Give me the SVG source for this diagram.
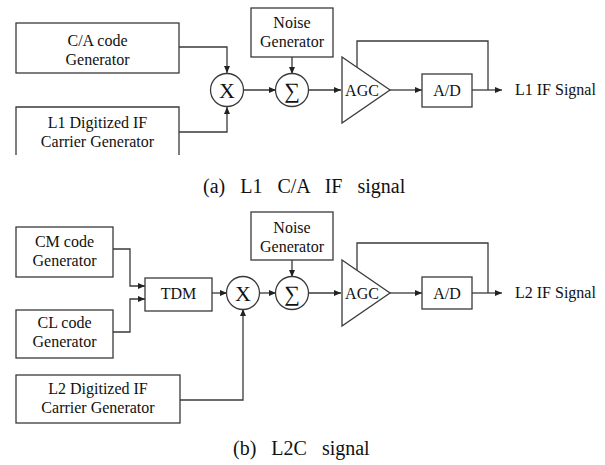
<svg xmlns="http://www.w3.org/2000/svg" width="605" height="465" viewBox="0 0 605 465">
  <style>
    .box { fill: #ffffff; stroke: #3a3a3a; stroke-width: 1.3; }
    .wire { fill: none; stroke: #3a3a3a; stroke-width: 1.3; }
    .arr { marker-end: url(#ah); }
    .lbl { font-family: 'Liberation Serif', 'DejaVu Serif', serif; font-size: 16px; fill: #111111; text-anchor: middle; }
    .out { font-family: 'Liberation Serif', 'DejaVu Serif', serif; font-size: 16px; fill: #111111; }
    .sym { font-family: 'Liberation Serif', 'DejaVu Serif', serif; font-size: 22px; fill: #111111; text-anchor: middle; }
    .cap { font-family: 'Liberation Serif', 'DejaVu Serif', serif; font-size: 20px; fill: #111111; word-spacing: 10px; }
  </style>
  <defs>
    <marker id="ah" markerUnits="userSpaceOnUse" markerWidth="8" markerHeight="7" refX="7" refY="3" orient="auto">
      <path d="M0,0 L7,3 L0,6 Z" fill="#222222"/>
    </marker>
  </defs>
  <rect width="605" height="465" fill="#ffffff"/>

  <!-- (a) L1 C/A IF signal chain -->
  <g id="connectors-a">
    <path class="wire arr" d="M179,47 H227 V73"/>
    <path class="wire arr" d="M179,132 H227 V107"/>
    <path class="wire arr" d="M243,90 H276"/>
    <path class="wire arr" d="M292,57 V74"/>
    <path class="wire arr" d="M308,90 H341"/>
    <path class="wire arr" d="M390,90 H422"/>
    <path class="wire" d="M357,67 V41 H488 V90"/>
    <path class="wire arr" d="M472,90 H502"/>
  </g>
  <g id="ca-code-gen">
    <rect class="box" x="16" y="23" width="163" height="50"/>
    <text class="lbl" x="97.5" y="46">C/A code</text>
    <text class="lbl" x="97.5" y="65">Generator</text>
  </g>
  <g id="l1-carrier-gen">
    <path class="box" d="M16,155 V107 H179 V155"/>
    <text class="lbl" x="97.5" y="128">L1 Digitized IF</text>
    <text class="lbl" x="97.5" y="147">Carrier Generator</text>
  </g>
  <g id="mult-a">
    <circle class="box" cx="227" cy="90" r="16.5"/>
    <text class="sym" x="227" y="98">X</text>
  </g>
  <g id="noise-gen-a">
    <rect class="box" x="251" y="8" width="82" height="49"/>
    <text class="lbl" x="292" y="28">Noise</text>
    <text class="lbl" x="292" y="47">Generator</text>
  </g>
  <g id="sum-a">
    <circle class="box" cx="292" cy="90" r="16.5"/>
    <text class="sym" x="292" y="98">∑</text>
  </g>
  <g id="agc-a">
    <path class="box" d="M342,57 L390,90 L342,123 Z"/>
    <text class="lbl" x="362" y="96">AGC</text>
  </g>
  <g id="ad-a">
    <rect class="box" x="422" y="74" width="50" height="33"/>
    <text class="lbl" x="447" y="96">A/D</text>
  </g>
  <g id="out-a">
    <text class="out" x="515" y="95">L1 IF Signal</text>
  </g>
  <text class="cap" x="203" y="193">(a) L1 C/A IF signal</text>

  <!-- (b) L2C signal chain -->
  <g id="connectors-b">
    <path class="wire arr" d="M113,249 H130 V286 H145"/>
    <path class="wire arr" d="M113,332 H130 V299 H145"/>
    <path class="wire arr" d="M212,293 H227"/>
    <path class="wire arr" d="M180,400 H243 V309"/>
    <path class="wire arr" d="M259,293 H276"/>
    <path class="wire arr" d="M292,260 V277"/>
    <path class="wire arr" d="M308,293 H341"/>
    <path class="wire arr" d="M390,293 H422"/>
    <path class="wire" d="M357,270 V243 H488 V293"/>
    <path class="wire arr" d="M472,293 H502"/>
  </g>
  <g id="cm-code-gen">
    <rect class="box" x="16" y="227" width="97" height="50"/>
    <text class="lbl" x="64.5" y="247">CM code</text>
    <text class="lbl" x="64.5" y="266">Generator</text>
  </g>
  <g id="cl-code-gen">
    <rect class="box" x="16" y="310" width="97" height="48"/>
    <text class="lbl" x="64.5" y="328">CL code</text>
    <text class="lbl" x="64.5" y="347">Generator</text>
  </g>
  <g id="tdm">
    <rect class="box" x="145" y="278" width="67" height="33"/>
    <text class="lbl" x="178.5" y="299">TDM</text>
  </g>
  <g id="mult-b">
    <circle class="box" cx="243" cy="293" r="16.5"/>
    <text class="sym" x="243" y="301">X</text>
  </g>
  <g id="l2-carrier-gen">
    <rect class="box" x="16" y="375" width="164" height="48"/>
    <text class="lbl" x="98" y="394">L2 Digitized IF</text>
    <text class="lbl" x="98" y="413">Carrier Generator</text>
  </g>
  <g id="noise-gen-b">
    <rect class="box" x="251" y="212" width="82" height="48"/>
    <text class="lbl" x="292" y="233">Noise</text>
    <text class="lbl" x="292" y="252">Generator</text>
  </g>
  <g id="sum-b">
    <circle class="box" cx="292" cy="293" r="16.5"/>
    <text class="sym" x="292" y="301">∑</text>
  </g>
  <g id="agc-b">
    <path class="box" d="M342,260 L390,293 L342,326 Z"/>
    <text class="lbl" x="362" y="299">AGC</text>
  </g>
  <g id="ad-b">
    <rect class="box" x="422" y="277" width="50" height="32"/>
    <text class="lbl" x="447" y="299">A/D</text>
  </g>
  <g id="out-b">
    <text class="out" x="515" y="298">L2 IF Signal</text>
  </g>
  <text class="cap" x="233" y="455">(b) L2C signal</text>
</svg>
